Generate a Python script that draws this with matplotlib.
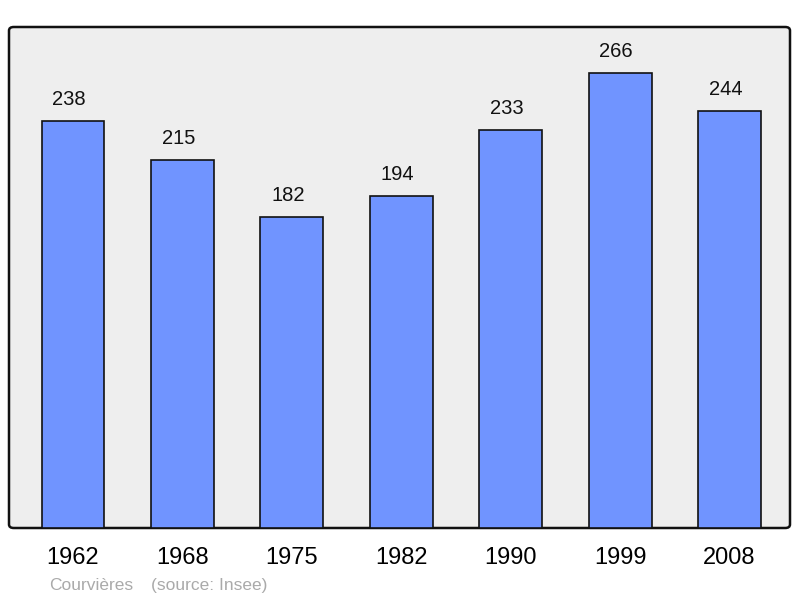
import matplotlib.pyplot as plt
from matplotlib.patches import FancyBboxPatch
from matplotlib.transforms import offset_copy

years = ['1962', '1968', '1975', '1982', '1990', '1999', '2008']
population = [238, 215, 182, 194, 233, 266, 244]

plt.rcParams['font.family'] = ['Liberation Sans', 'DejaVu Sans']

fig = plt.figure(figsize=(8, 5.98), dpi=100)
ax = fig.add_axes([9 / 800, 70 / 598, 781 / 800, 501 / 598])
ax.set_facecolor('none')
ax.set_zorder(1)

# rounded frame behind the plot
frame = FancyBboxPatch((9 / 800, 70 / 598), 781 / 800, 501 / 598,
                       boxstyle='round,pad=0,rounding_size=0.006',
                       transform=fig.transFigure, facecolor='#eeeeee',
                       edgecolor='#111111', linewidth=1.8, zorder=-1)
fig.patches.append(frame)

x = range(len(years))
ax.bar(x, population, width=0.575, color='#7094ff', edgecolor='#111111',
       linewidth=1.2, zorder=2)
# labels sit a little left of the bar centre in the original
lbl_tr = offset_copy(ax.transData, fig=fig, x=-4, y=0, units='dots')
for i, v in zip(x, population):
    ax.text(i, v + 7, str(v), ha='center', va='bottom', fontsize=14.5,
            color='#111111', transform=lbl_tr)

ax.set_xlim(-0.585, 6.553)
ax.set_ylim(0, 293)
for s in ax.spines.values():
    s.set_visible(False)
ax.set_yticks([])
ax.set_xticks(list(x))
ax.set_xticklabels(years, fontsize=17)
ax.tick_params(axis='x', length=0, pad=14)

fig.text(49 / 800, 1 - 590 / 598, 'Courvières', color='#aaaaaa', fontsize=12.5, va='baseline')
fig.text(151 / 800, 1 - 590 / 598, '(source: Insee)', color='#aaaaaa', fontsize=12.5, va='baseline')

fig.savefig('out.png', dpi=100)
